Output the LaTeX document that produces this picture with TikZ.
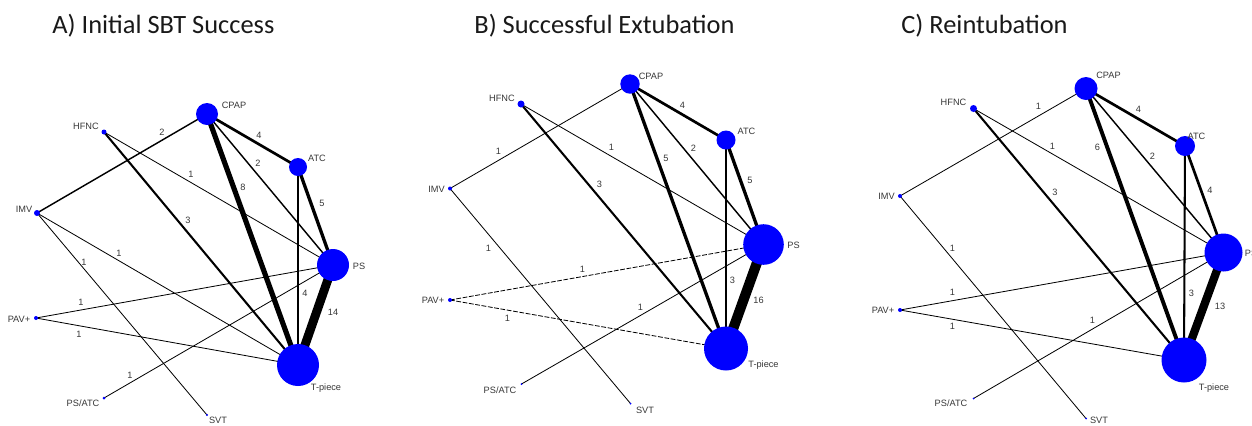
\documentclass[tikz,border=0pt]{standalone}
\usepackage{fontspec}
\setmainfont{Liberation Sans}
\newfontfamily\titlefont{Carlito}
\usetikzlibrary{backgrounds}
\definecolor{netblue}{RGB}{0, 0, 255}
\definecolor{namegray}{RGB}{55, 55, 55}
\definecolor{titleblack}{RGB}{25, 25, 25}

\tikzset{
    vertex/.style={circle, fill=netblue, inner sep=0pt, minimum size=#1pt},
    vname/.style={font=\fontsize{4.6}{5}\selectfont, text=namegray, inner sep=0pt},
    weight/.style={font=\fontsize{4.6}{5}\selectfont, text=namegray, inner sep=0pt},
    link/.style={draw=black, line width={0.1pt+0.31pt*#1}},
    pavlink/.style={link=#1, dash pattern=on 2.4pt off 0.8pt},
    paneltitle/.style={font=\titlefont\fontsize{13.2}{15}\selectfont, text=titleblack, anchor=base west, inner sep=0pt}
}

\begin{document}
\begin{tikzpicture}[x=0.5pt, y=-0.5pt]
    \useasboundingbox (0,0) rectangle (1252,425);

    % titles
    \node[paneltitle] (a-title) at (52,33) {A) Initial SBT Success};
    \node[paneltitle] (b-title) at (474,33) {B) Successful Extubation};
    \node[paneltitle] (c-title) at (901,33) {C) Reintubation};

    % A) initial SBT success
    \node[vertex=11] (a-cpap) at (207,114) {};
    \node[vertex=9] (a-atc) at (298,167) {};
    \node[vertex=16] (a-ps) at (333,265) {};
    \node[vertex=21] (a-tp) at (298,365) {};
    \node[vertex=2.5] (a-hfnc) at (104,132) {};
    \node[vertex=3] (a-imv) at (37,213) {};
    \node[vertex=2] (a-pav) at (36,318) {};
    \node[vertex=1.5] (a-psatc) at (104,398) {};
    \node[vertex=1.2] (a-svt) at (207,415) {};
    \node[vname] (a-cpap-n) at (234,105) {CPAP};
    \node[vname] (a-atc-n) at (317,158.5) {ATC};
    \node[vname] (a-ps-n) at (359,266) {PS};
    \node[vname] (a-tp-n) at (326,388.5) {T-piece};
    \node[vname] (a-hfnc-n) at (86,126.5) {HFNC};
    \node[vname] (a-imv-n) at (24,209) {IMV};
    \node[vname] (a-pav-n) at (19,319) {PAV+};
    \node[vname] (a-psatc-n) at (83,403.5) {PS/ATC};
    \node[vname] (a-svt-n) at (218,420.5) {SVT};
    \begin{scope}[on background layer]
        \draw[link=2] (a-imv.center) -- (a-cpap.center);
        \draw[link=1] (a-hfnc.center) -- (a-ps.center);
        \draw[link=3] (a-hfnc.center) -- (a-tp.center);
        \draw[link=1] (a-imv.center) -- (a-tp.center);
        \draw[link=1] (a-imv.center) -- (a-svt.center);
        \draw[link=1] (a-pav.center) -- (a-ps.center);
        \draw[link=1] (a-pav.center) -- (a-tp.center);
        \draw[link=1] (a-psatc.center) -- (a-ps.center);
        \draw[link=4] (a-cpap.center) -- (a-atc.center);
        \draw[link=2] (a-cpap.center) -- (a-ps.center);
        \draw[link=8] (a-cpap.center) -- (a-tp.center);
        \draw[link=5] (a-atc.center) -- (a-ps.center);
        \draw[link=4] (a-atc.center) -- (a-tp.center);
        \draw[link=14] (a-ps.center) -- (a-tp.center);
    \end{scope}
    \node[weight] (a-w-imv-cpap) at (162,132) {2};
    \node[weight] (a-w-hfnc-ps) at (191,174.5) {1};
    \node[weight] (a-w-hfnc-tp) at (188,220.5) {3};
    \node[weight] (a-w-imv-tp) at (119,253) {1};
    \node[weight] (a-w-imv-svt) at (84,262) {1};
    \node[weight] (a-w-pav-ps) at (81,302.5) {1};
    \node[weight] (a-w-pav-tp) at (79,334.5) {1};
    \node[weight] (a-w-psatc-ps) at (130,375) {1};
    \node[weight] (a-w-cpap-atc) at (259,135) {4};
    \node[weight] (a-w-cpap-ps) at (258,163) {2};
    \node[weight] (a-w-cpap-tp) at (243,187) {8};
    \node[weight] (a-w-atc-ps) at (322,203) {5};
    \node[weight] (a-w-atc-tp) at (305,293) {4};
    \node[weight] (a-w-ps-tp) at (333,312) {14};

    % B) successful extubation
    \node[vertex=9.7] (b-cpap) at (630,84) {};
    \node[vertex=9.5] (b-atc) at (726,140) {};
    \node[vertex=20.3] (b-ps) at (763.5,244.5) {};
    \node[vertex=22] (b-tp) at (726,348.5) {};
    \node[vertex=3.5] (b-hfnc) at (521,104) {};
    \node[vertex=2] (b-imv) at (450,188.5) {};
    \node[vertex=2] (b-pav) at (450,300) {};
    \node[vertex=1] (b-psatc) at (521.5,384) {};
    \node[vertex=1] (b-svt) at (630.5,403.5) {};
    \node[vname] (b-cpap-n) at (651,76) {CPAP};
    \node[vname] (b-atc-n) at (746.5,131) {ATC};
    \node[vname] (b-ps-n) at (793.5,245) {PS};
    \node[vname] (b-tp-n) at (763.5,365.5) {T-piece};
    \node[vname] (b-hfnc-n) at (502,98) {HFNC};
    \node[vname] (b-imv-n) at (436.5,189) {IMV};
    \node[vname] (b-pav-n) at (433,300) {PAV+};
    \node[vname] (b-psatc-n) at (500,390) {PS/ATC};
    \node[vname] (b-svt-n) at (645,410) {SVT};
    \begin{scope}[on background layer]
        \draw[link=1] (b-imv.center) -- (b-cpap.center);
        \draw[link=1] (b-hfnc.center) -- (b-ps.center);
        \draw[link=3] (b-hfnc.center) -- (b-tp.center);
        \draw[link=1] (b-imv.center) -- (b-svt.center);
        \draw[pavlink=1] (b-pav.center) -- (b-ps.center);
        \draw[pavlink=1] (b-pav.center) -- (b-tp.center);
        \draw[link=1] (b-psatc.center) -- (b-ps.center);
        \draw[link=4] (b-cpap.center) -- (b-atc.center);
        \draw[link=2] (b-cpap.center) -- (b-ps.center);
        \draw[link=5] (b-cpap.center) -- (b-tp.center);
        \draw[link=5] (b-atc.center) -- (b-ps.center);
        \draw[link=3] (b-atc.center) -- (b-tp.center);
        \draw[link=16] (b-ps.center) -- (b-tp.center);
    \end{scope}
    \node[weight] (b-w-imv-cpap) at (498.5,151.5) {1};
    \node[weight] (b-w-hfnc-ps) at (611.5,147.5) {1};
    \node[weight] (b-w-hfnc-tp) at (599.5,184) {3};
    \node[weight] (b-w-imv-svt) at (488.5,248.5) {1};
    \node[weight] (b-w-pav-ps) at (582.5,269.5) {1};
    \node[weight] (b-w-pav-tp) at (507.5,318.5) {1};
    \node[weight] (b-w-psatc-ps) at (640.5,307.5) {1};
    \node[weight] (b-w-cpap-atc) at (682.5,105) {4};
    \node[weight] (b-w-cpap-ps) at (693.5,148.5) {2};
    \node[weight] (b-w-cpap-tp) at (666,158.5) {5};
    \node[weight] (b-w-atc-ps) at (750,180) {5};
    \node[weight] (b-w-atc-tp) at (732.5,280) {3};
    \node[weight] (b-w-ps-tp) at (758.5,300) {16};

    % C) reintubation
    \node[vertex=11.5] (c-cpap) at (1086,88.5) {};
    \node[vertex=10] (c-atc) at (1185,146) {};
    \node[vertex=19] (c-ps) at (1223.5,252.5) {};
    \node[vertex=22.5] (c-tp) at (1184,360) {};
    \node[vertex=3.5] (c-hfnc) at (973.5,108.5) {};
    \node[vertex=2] (c-imv) at (900,196) {};
    \node[vertex=2] (c-pav) at (900,310) {};
    \node[vertex=1] (c-psatc) at (973.5,398.5) {};
    \node[vertex=1] (c-svt) at (1086,418.5) {};
    \node[vname] (c-cpap-n) at (1108.5,75) {CPAP};
    \node[vname] (c-atc-n) at (1196.5,136.5) {ATC};
    \node[vname, anchor=west] (c-ps-n) at (1244.5,253) {PS};
    \node[vname] (c-tp-n) at (1214,388) {T-piece};
    \node[vname] (c-hfnc-n) at (953.5,102) {HFNC};
    \node[vname] (c-imv-n) at (886.5,196) {IMV};
    \node[vname] (c-pav-n) at (883,310) {PAV+};
    \node[vname] (c-psatc-n) at (951,403.5) {PS/ATC};
    \node[vname] (c-svt-n) at (1099,420.5) {SVT};
    \begin{scope}[on background layer]
        \draw[link=1] (c-imv.center) -- (c-cpap.center);
        \draw[link=1] (c-hfnc.center) -- (c-ps.center);
        \draw[link=3] (c-hfnc.center) -- (c-tp.center);
        \draw[link=1] (c-imv.center) -- (c-svt.center);
        \draw[link=1] (c-pav.center) -- (c-ps.center);
        \draw[link=1] (c-pav.center) -- (c-tp.center);
        \draw[link=1] (c-psatc.center) -- (c-ps.center);
        \draw[link=4] (c-cpap.center) -- (c-atc.center);
        \draw[link=2] (c-cpap.center) -- (c-ps.center);
        \draw[link=6] (c-cpap.center) -- (c-tp.center);
        \draw[link=4] (c-atc.center) -- (c-ps.center);
        \draw[link=3] (c-atc.center) -- (c-tp.center);
        \draw[link=13] (c-ps.center) -- (c-tp.center);
    \end{scope}
    \node[weight] (c-w-imv-cpap) at (1038.5,106.5) {1};
    \node[weight] (c-w-hfnc-ps) at (1052.5,146) {1};
    \node[weight] (c-w-hfnc-tp) at (1055,192.5) {3};
    \node[weight] (c-w-imv-svt) at (952.5,248.5) {1};
    \node[weight] (c-w-pav-ps) at (952.5,292.5) {1};
    \node[weight] (c-w-pav-tp) at (952.5,326.5) {1};
    \node[weight] (c-w-psatc-ps) at (1092.5,320) {1};
    \node[weight] (c-w-cpap-atc) at (1138.5,109.5) {4};
    \node[weight] (c-w-cpap-ps) at (1152.5,156.5) {2};
    \node[weight] (c-w-cpap-tp) at (1097.5,147.5) {6};
    \node[weight] (c-w-atc-ps) at (1210,190) {4};
    \node[weight] (c-w-atc-tp) at (1191.5,293.5) {3};
    \node[weight] (c-w-ps-tp) at (1220,306) {13};
\end{tikzpicture}
\end{document}
